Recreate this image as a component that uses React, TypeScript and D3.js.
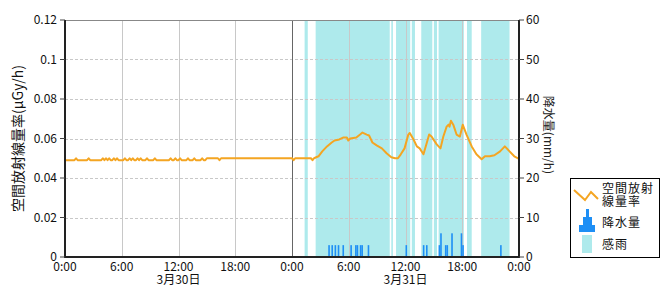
import React from "react";
import * as d3 from "d3";

// ---- data ----
// 3/30 dose rate, 10-minute steps (μGy/h)
const day1Rate = [
  0.049, 0.049, 0.049, 0.049, 0.049, 0.049, 0.049, 0.05, 0.049, 0.049, 0.049, 0.049,
  0.049, 0.049, 0.049, 0.05, 0.049, 0.049, 0.049, 0.049, 0.049, 0.049, 0.049, 0.049,
  0.05, 0.049, 0.05, 0.049, 0.05, 0.049, 0.049, 0.05, 0.049, 0.05, 0.049, 0.049,
  0.049, 0.049, 0.05, 0.049, 0.049, 0.05, 0.049, 0.05, 0.049, 0.049, 0.05, 0.049,
  0.05, 0.049, 0.049, 0.049, 0.05, 0.049, 0.049, 0.049, 0.049, 0.05, 0.049, 0.049,
  0.049, 0.049, 0.049, 0.049, 0.049, 0.049, 0.049, 0.05, 0.049, 0.049, 0.05, 0.049,
  0.049, 0.05, 0.049, 0.049, 0.049, 0.049, 0.05, 0.049, 0.049, 0.049, 0.05, 0.049,
  0.049, 0.049, 0.049, 0.05, 0.049, 0.049, 0.05, 0.05, 0.05, 0.05, 0.05, 0.05,
  0.05, 0.05, 0.049, 0.05, 0.05, 0.05, 0.05, 0.05, 0.05, 0.05, 0.05, 0.05,
  0.05, 0.05, 0.05, 0.05, 0.05, 0.05, 0.05, 0.05, 0.05, 0.05, 0.05, 0.05,
  0.05, 0.05, 0.05, 0.05, 0.05, 0.05, 0.05, 0.05, 0.05, 0.05, 0.05, 0.05,
  0.05, 0.05, 0.05, 0.05, 0.05, 0.05, 0.05, 0.05, 0.05, 0.05, 0.05, 0.05,
];
// 3/31 dose rate: hour of day, value
const day2Hours = [
  0, 0.17, 0.33, 2.0, 2.17, 2.33, 2.8, 3.2, 3.7, 4.2, 4.5, 5.0, 5.4, 5.8, 5.95, 6.15,
  6.8, 7.2, 7.45, 7.9, 8.15, 8.5, 8.95, 9.5, 10.0, 10.5, 10.9, 11.2, 11.5, 11.9, 12.3,
  12.45, 12.85, 13.2, 13.5, 13.9, 14.2, 14.5, 14.75, 15.3, 15.7, 16.0, 16.35, 16.55,
  16.65, 16.8, 17.05, 17.4, 17.75, 18.05, 18.45, 19.0, 19.5, 20.05, 20.4, 20.9, 21.4,
  22.0, 22.5, 23.0, 23.5, 24.0,
];
const day2Rate = [
  0.05, 0.049, 0.05, 0.05, 0.049, 0.05, 0.051, 0.0535, 0.056, 0.058, 0.059, 0.0595,
  0.0605, 0.0605, 0.059, 0.06, 0.0605, 0.062, 0.063, 0.062, 0.0615, 0.058, 0.0565,
  0.055, 0.0525, 0.0505, 0.05, 0.05, 0.052, 0.055, 0.062, 0.0628, 0.0595, 0.056, 0.055,
  0.052, 0.057, 0.062, 0.061, 0.057, 0.055, 0.061, 0.066, 0.067, 0.066, 0.069, 0.067,
  0.062, 0.061, 0.067, 0.062, 0.056, 0.052, 0.0495, 0.051, 0.051, 0.0515, 0.0535,
  0.056, 0.0535, 0.051, 0.0497,
];
// 3/31 precipitation (10-minute bins starting at given time), mm/h
const rainTimes = [
  "3:50", "4:10", "4:30", "4:50", "5:20", "6:10", "6:40", "6:50", "7:10", "7:20", "8:00",
  "12:00", "13:50", "14:10", "15:30", "15:40", "16:10", "16:20", "16:50", "17:50", "18:00",
  "22:00",
];
const rainValues = [3, 3, 3, 3, 3, 3, 3, 3, 3, 3, 3, 3, 3, 3, 3, 6, 3, 3, 6, 6, 3, 3];
// 3/31 rain sensing periods
const senseStart = ["1:20", "2:30", "10:30", "11:00", "12:40", "13:40", "15:00", "15:30", "18:30", "20:00"];
const senseEnd = ["1:40", "10:20", "10:40", "12:30", "13:00", "14:50", "15:20", "18:10", "19:00", "23:00"];

const leftTicks = [0, 0.02, 0.04, 0.06, 0.08, 0.1, 0.12];
const leftTickLabels = ["0", "0.02", "0.04", "0.06", "0.08", "0.1", "0.12"];
const rightTicks = [0, 10, 20, 30, 40, 50, 60];
const xTickHours = [0, 6, 12, 18, 24, 30, 36, 42, 48];
const xTickLabels = ["0:00", "6:00", "12:00", "18:00", "0:00", "6:00", "12:00", "18:00", "0:00"];
const dateLabels = ["3月30日", "3月31日"];
const dateHours = [12, 36];

const FONT = "'Noto Sans CJK JP', 'Noto Sans', sans-serif";
const LINE_COLOR = "#f4a522";
const BAR_COLOR = "#1e8ff5";
const SENSE_COLOR = "#aeeaec";

const toH = (s: string) => {
  const [h, m] = s.split(":").map(Number);
  return h + m / 60;
};

export default function App() {
  const left = 65, right = 519, top = 20, bottom = 257;
  const x = d3.scaleLinear().domain([0, 48]).range([left, right]);
  const yL = d3.scaleLinear().domain([0, 0.12]).range([bottom, top]);
  const yR = d3.scaleLinear().domain([0, 60]).range([bottom, top]);

  const pts: [number, number][] = [];
  day1Rate.forEach((v, i) => pts.push([i / 6, v]));
  day2Hours.forEach((h, i) => pts.push([24 + h, day2Rate[i]]));
  const line = d3
    .line<[number, number]>()
    .x((d) => x(d[0]))
    .y((d) => yL(d[1]));

  const gridHours = [6, 12, 18, 30, 36, 42];

  return (
    <svg
      width={670}
      height={300}
      style={{ position: "absolute", left: 0, top: 0, display: "block", background: "#fff" }}
      fontFamily={FONT}
    >
      {/* sensing */}
      {senseStart.map((s, i) => (
        <rect
          key={"s" + i}
          x={x(24 + toH(s))}
          y={top}
          width={x(24 + toH(senseEnd[i])) - x(24 + toH(s))}
          height={bottom - top}
          fill={SENSE_COLOR}
        />
      ))}
      {/* grid */}
      {leftTicks.slice(1, -1).map((t) => (
        <line
          key={"h" + t}
          x1={left}
          x2={right}
          y1={Math.round(yL(t)) + 0.5}
          y2={Math.round(yL(t)) + 0.5}
          stroke="#c8c8c8"
          strokeDasharray="3,2"
        />
      ))}
      {gridHours.map((h) => (
        <line
          key={"v" + h}
          x1={Math.round(x(h)) + 0.5}
          x2={Math.round(x(h)) + 0.5}
          y1={top}
          y2={bottom}
          stroke="#c8c8c8"
        />
      ))}
      <line x1={Math.round(x(24)) + 0.5} x2={Math.round(x(24)) + 0.5} y1={top} y2={bottom} stroke="#666" />
      <line x1={left} x2={right} y1={top + 0.5} y2={top + 0.5} stroke="#888" />
      {/* rain bars */}
      {rainTimes.map((t, i) => (
        <rect
          key={"r" + i}
          x={x(24 + toH(t))}
          y={yR(rainValues[i])}
          width={1.6}
          height={bottom - yR(rainValues[i])}
          fill={BAR_COLOR}
        />
      ))}
      {/* line */}
      <path d={line(pts) || ""} fill="none" stroke={LINE_COLOR} strokeWidth={2} strokeLinejoin="round" />
      {/* axes */}
      <line x1={left} x2={left} y1={top} y2={bottom + 1} stroke="#222" strokeWidth={2} />
      <line x1={right} x2={right} y1={top} y2={bottom + 1} stroke="#222" strokeWidth={2} />
      <line x1={left - 1} x2={right + 1} y1={bottom} y2={bottom} stroke="#222" strokeWidth={2} />
      {leftTicks.map((t, i) => (
        <g key={"lt" + t}>
          <line x1={left - 5} x2={left} y1={yL(t)} y2={yL(t)} stroke="#444" />
          <text x={57} y={yL(t)} dy="0.35em" textAnchor="end" fontSize={12} fill="#111">
            {leftTickLabels[i]}
          </text>
        </g>
      ))}
      {rightTicks.map((t) => (
        <g key={"rt" + t}>
          <line x1={right} x2={right + 5} y1={yR(t)} y2={yR(t)} stroke="#444" />
          <text x={526} y={yR(t)} dy="0.35em" textAnchor="start" fontSize={12} fill="#111">
            {t}
          </text>
        </g>
      ))}
      {xTickHours.map((h, i) => (
        <text key={"xt" + i} x={x(h)} y={271} textAnchor="middle" fontSize={12} fill="#111">
          {xTickLabels[i]}
        </text>
      ))}
      {dateLabels.map((d, i) => (
        <text key={"d" + i} x={x(dateHours[i])} y={284} textAnchor="middle" fontSize={12} fill="#111">
          {d}
        </text>
      ))}
      <text
        transform={`translate(23,${(top + bottom) / 2}) rotate(-90)`}
        textAnchor="middle"
        fontSize={14}
        fill="#111"
      >
        空間放射線量率(μGy/h)
      </text>
      <text
        transform={`translate(544,${135}) rotate(90)`}
        textAnchor="middle"
        fontSize={12}
        fill="#222"
      >
        降水量(mm/h)
      </text>
      {/* legend */}
      <rect x={570.5} y={178.5} width={89} height={79} fill="#fff" stroke="#000" />
      <polyline
        points="574,190 585,200 591,192 598,199"
        fill="none"
        stroke={LINE_COLOR}
        strokeWidth={2}
      />
      <text x={602} y={193} fontSize={12} letterSpacing={1} fill="#111">空間放射</text>
      <text x={602} y={206} fontSize={12} letterSpacing={1} fill="#111">線量率</text>
      <path
        d="M579,232 L579,225 L583,225 L583,217 L586,217 L586,209 L589,209 L589,217 L592,217 L592,225 L595,225 L595,232 Z"
        fill={BAR_COLOR}
      />
      <text x={602} y={227} fontSize={12} letterSpacing={1} fill="#111">降水量</text>
      <rect x={582} y={235} width={10} height={18} fill={SENSE_COLOR} />
      <text x={602} y={249} fontSize={12} letterSpacing={1} fill="#111">感雨</text>
    </svg>
  );
}
